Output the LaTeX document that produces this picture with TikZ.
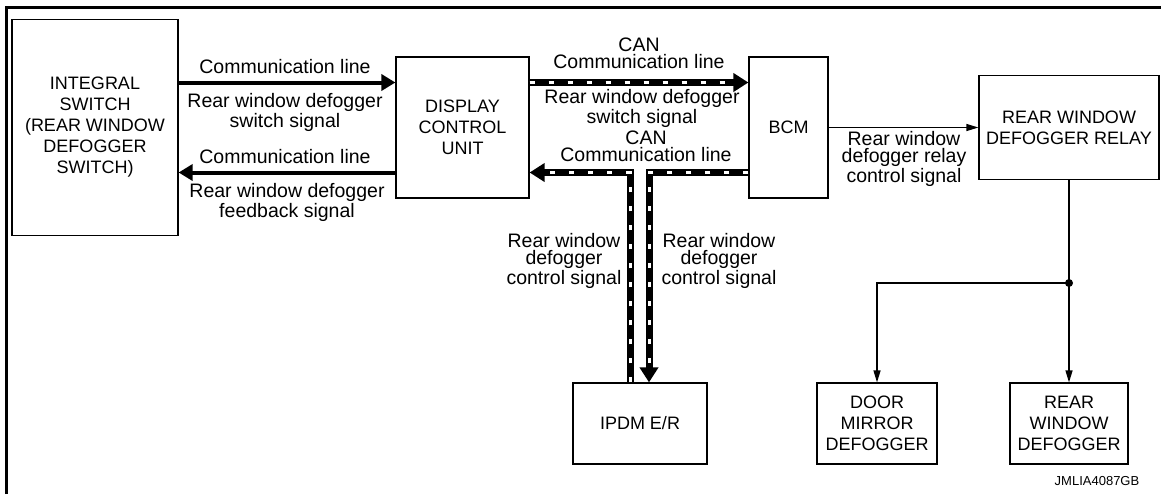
\documentclass[tikz,border=0pt]{standalone}
\usepackage{fontspec}
\setmainfont{Liberation Sans}
\usetikzlibrary{arrows.meta,positioning,calc}

\begin{document}
\begin{tikzpicture}[x=0.5pt,y=-0.5pt,
  unitbox/.style={draw,line width=0.6pt,align=center,inner sep=0pt,
    font=\fontsize{9}{10.5}\selectfont},
  siglabel/.style={anchor=north,inner sep=0pt,align=center,
    font=\fontsize{9.75}{8.5}\selectfont},
  commline/.style={line width=2pt,-{Triangle[length=7pt,width=8pt]}},
  canline/.style={line width=3.5pt,-{Triangle[length=7.5pt,width=9pt]},
    postaction={draw=white,line width=1.5pt,dash pattern=on 2.5pt off 7pt,
      -,shorten >=8pt}},
  wireline/.style={line width=0.6pt,-{Triangle[length=6pt,width=3.5pt]}}]

  \useasboundingbox (0,0) rectangle (1161,494);

  % ---- Frame (top and left edge) ---------------------------
  \draw[line width=1.65pt] (6.3,494) -- (6.3,7.5) -- (1161,7.5);

  % ---- Units ------------------------------------------------
  \node[unitbox,minimum width=83pt,minimum height=108pt] (isw) at (95,127.5)
    {INTEGRAL\\SWITCH\\(REAR WINDOW\\DEFOGGER\\SWITCH)};
  \node[unitbox,minimum width=66.5pt,minimum height=70.5pt] (dcu) at (462.5,127.5)
    {DISPLAY\\CONTROL\\UNIT};
  \node[unitbox,minimum width=39.5pt,minimum height=70.5pt] (bcm) at (788.5,127.5)
    {BCM};
  \node[unitbox,minimum width=90pt,minimum height=52pt] (rly) at (1069,127.5)
    {REAR WINDOW\\DEFOGGER RELAY};
  \node[unitbox,minimum width=67pt,minimum height=40.5pt] (ipdm) at (640,423.5)
    {IPDM E/R};
  \node[unitbox,minimum width=60pt,minimum height=40.5pt] (dmd) at (877,423.5)
    {DOOR\\MIRROR\\DEFOGGER};
  \node[unitbox,minimum width=59pt,minimum height=40.5pt] (rwd) at (1069,423.5)
    {REAR\\WINDOW\\DEFOGGER};

  % ---- Communication lines (switch <-> display unit) -------
  \draw[commline] ([yshift=22.5pt]isw.east) -- ([yshift=22.5pt]dcu.west);
  \draw[commline] ([yshift=-22.5pt]dcu.west) -- ([yshift=-22.5pt]isw.east);
  \node[siglabel] (lcomma) at (285,59) {Communication line};
  \node[siglabel] (lswa) at (285,93) {Rear window defogger\\switch signal};
  \node[siglabel] (lcommb) at (285,149) {Communication line};
  \node[siglabel] (lfb) at (287,183) {Rear window defogger\\feedback signal};

  % ---- CAN lines --------------------------------------------
  \draw[canline] ([yshift=22.5pt]dcu.east) -- ([yshift=22.5pt]bcm.west);
  \draw[canline] ([yshift=-22.5pt]bcm.west) -| ([xshift=4.5pt]ipdm.north);
  \draw[canline] ([xshift=-5pt]ipdm.north) |- ([yshift=-22.5pt]dcu.east);
  \node[siglabel] (lcana) at (639,37) {CAN\\Communication line};
  \node[siglabel] (lswb) at (642,89) {Rear window defogger\\switch signal};
  \node[siglabel] (lcanb) at (646,130) {CAN\\Communication line};
  \node[siglabel] (lctla) at (564,233) {Rear window\\defogger\\control signal};
  \node[siglabel] (lctlb) at (719,233) {Rear window\\defogger\\control signal};

  % ---- Relay and defoggers ----------------------------------
  \draw[wireline] (bcm.east) -- (rly.west);
  \node[siglabel] (lrly) at (904,131) {Rear window\\defogger relay\\control signal};
  \coordinate (jn) at (1069,283);
  \draw[line width=0.6pt] (rly.south) -- (jn);
  \draw[wireline] (jn) -| (dmd.north);
  \draw[wireline] (jn) -- (rwd.north);
  \fill (jn) circle (2pt);

  % ---- Figure code ------------------------------------------
  \node[anchor=base,inner sep=0pt,font=\fontsize{6.5}{7}\selectfont] (fig) at (1097,485)
    {JMLIA4087GB};

\end{tikzpicture}
\end{document}
